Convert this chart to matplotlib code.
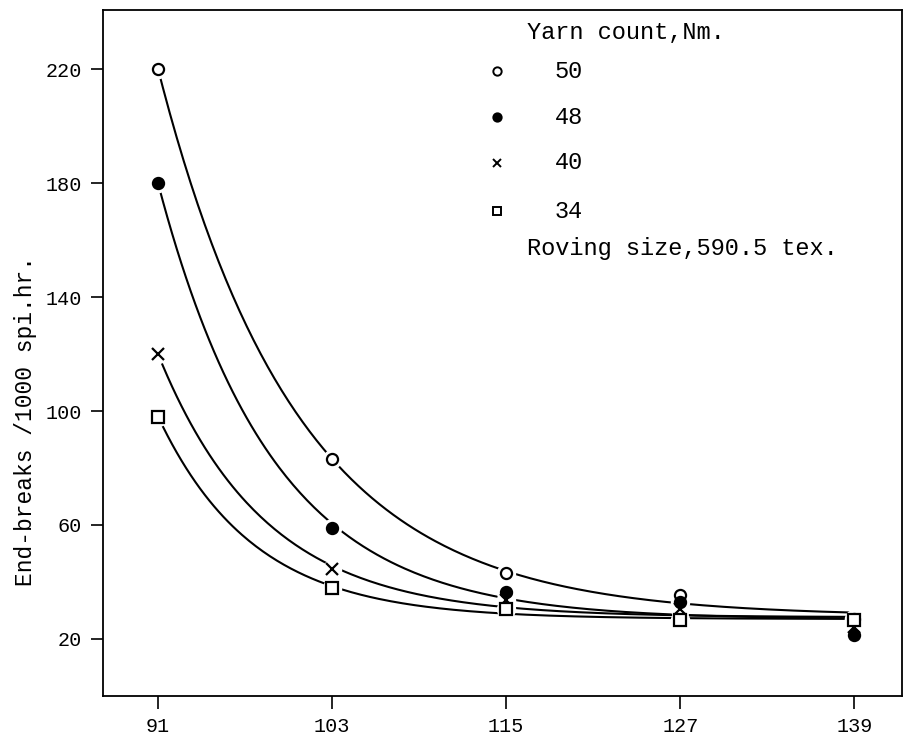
import numpy as np
import matplotlib
matplotlib.use("Agg")
import matplotlib.pyplot as plt

plt.rcParams['font.family'] = ['Liberation Mono', 'DejaVu Sans Mono']

# spindle speed / twist levels on the x axis
x_vals = [91, 103, 115, 127, 139]
x_ticks = [91, 103, 115, 127, 139]
y_ticks = [20, 60, 100, 140, 180, 220]

# end-breaks per yarn count (Nm)
nm50 = [220, 83, 43, 35.5, 27]
nm48 = [180, 59, 36.5, 33, 21.5]
nm40 = [120, 44.5, 33.5, 30.5, 24]
nm34 = [98, 38, 30.5, 26.5, 26.5]

series = [
    ("50", nm50, dict(marker="o", mfc="white", ms=8)),
    ("48", nm48, dict(marker="o", mfc="black", ms=8)),
    ("40", nm40, dict(marker="x", mfc="black", ms=8)),
    ("34", nm34, dict(marker="s", mfc="white", ms=8)),
]


def fit_decay(x, y):
    # y = a + b*exp(-k*(x-x0)), grid search on k, least squares on a, b
    x = np.asarray(x, float)
    y = np.asarray(y, float)
    best = None
    for k in np.linspace(0.01, 0.4, 400):
        A = np.column_stack([np.ones_like(x), np.exp(-k * (x - x[0]))])
        coef, res, _, _ = np.linalg.lstsq(A, y, rcond=None)
        err = np.sum((A @ coef - y) ** 2)
        if best is None or err < best[0]:
            best = (err, k, coef)
    _, k, (a, b) = best
    xs = np.linspace(x[0], x[-1], 300)
    return xs, a + b * np.exp(-k * (xs - x[0]))


fig = plt.figure(figsize=(9.04, 7.37), dpi=100)
ax = fig.add_axes([0.114, 0.056, 0.884, 0.931])

for label, vals, st in series:
    xs, ys = fit_decay(x_vals, vals)
    ax.plot(xs, ys, color="black", lw=1.5, zorder=2)
    # white halo so the curve breaks around each point
    ax.plot(x_vals, vals, ls="none", marker="o", ms=13, mfc="white",
            mec="white", zorder=3)
    ax.plot(x_vals, vals, ls="none", color="black", mec="black", mew=1.6,
            zorder=4, **st)

ax.set_xlim(87.2, 142.3)
ax.set_ylim(0, 241)
ax.set_xticks(x_ticks)
ax.set_yticks(y_ticks)
ax.tick_params(direction="out", length=9, width=1.2, labelsize=14.5, pad=6)
for sp in ax.spines.values():
    sp.set_linewidth(1.3)

ax.set_ylabel("End-breaks /1000 spi.hr.", fontsize=16.5)
ax.yaxis.set_label_coords(-0.083, 0.40)

# legend block written as text in the upper right
ax.text(0.53, 0.966, "Yarn count,Nm.", transform=ax.transAxes,
        fontsize=17, va="center", ha="left")
leg_y = [0.910, 0.843, 0.777, 0.706]
for (label, vals, st), yy in zip(series, leg_y):
    ax.plot([0.493], [yy], transform=ax.transAxes, ls="none", color="black",
            mec="black", mew=1.4, **{**st, "ms": 6})
    ax.text(0.565, yy, label, transform=ax.transAxes, fontsize=17,
            va="center", ha="left")
ax.text(0.53, 0.652, "Roving size,590.5 tex.", transform=ax.transAxes,
        fontsize=17, va="center", ha="left")

fig.savefig("out.png", dpi=100)
